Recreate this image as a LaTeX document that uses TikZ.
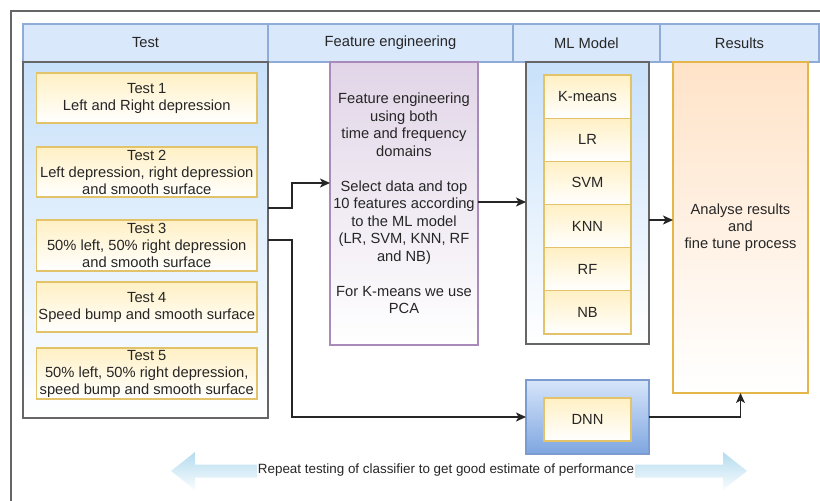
\documentclass[tikz,border=0pt]{standalone}
\usepackage{fontspec}
\setmainfont{Liberation Sans}
\usetikzlibrary{arrows.meta,positioning}

\definecolor{hdrfill}{HTML}{DAE8FC}
\definecolor{hdrline}{HTML}{8FACD8}
\definecolor{paleblue}{HTML}{C8E1FA}
\definecolor{framegray}{HTML}{666666}
\definecolor{yelfill}{HTML}{FFF0C4}
\definecolor{yelline}{HTML}{E3C36A}
\definecolor{purfill}{HTML}{E1D5E7}
\definecolor{purline}{HTML}{A98BBB}
\definecolor{orfill}{HTML}{FFE3C8}
\definecolor{orline}{HTML}{E5B74A}
\definecolor{dnntop}{HTML}{D6E5FA}
\definecolor{dnnbot}{HTML}{7FA6E0}
\definecolor{dnnline}{HTML}{7C9CD0}
\definecolor{loopblue}{HTML}{B4DCEF}
\definecolor{txt}{HTML}{262626}

\begin{document}
\begin{tikzpicture}[x=1pt,y=-1pt,
  every node/.style={inner sep=0pt, outer sep=0pt, text=txt, align=center,
    font=\fontsize{14.7}{17}\selectfont},
  header/.style={draw=hdrline, fill=hdrfill, line width=1.2pt,
    minimum height=38pt},
  container/.style={draw=framegray, line width=1.2pt,
    top color=paleblue, bottom color=white},
  testbox/.style={draw=yelline, line width=1.2pt,
    top color=yelfill, bottom color=white,
    minimum width=220.5pt},
  algo/.style={draw=yelline, line width=1.2pt,
    top color=yelfill, bottom color=white,
    minimum width=87pt, minimum height=43.17pt},
  conn/.style={draw=txt, line width=1.2pt},
  arr/.style={conn, -{Stealth[length=10pt,width=9pt,inset=2.5pt]}}]

\useasboundingbox (0,0) rectangle (820,501);
\clip (0,0) rectangle (820,501);

% outer frame (runs past the page edges)
\draw[framegray, line width=2pt] (830,11) -- (11,11) -- (11,511);

% column headers
\node[header, minimum width=245pt] (hTest) at (145.5,43) {Test};
\node[header, minimum width=245pt] (hFE) at (390.5,43) {Feature engineering};
\node[header, minimum width=147pt] (hML) at (586.5,43) {ML Model};
\node[header, minimum width=159pt] (hRes) at (739.5,43) {Results};

% test column
\node[container, minimum width=245pt, minimum height=356pt] (tests) at (145.5,240) {};
\node[testbox, minimum height=50pt] (t1) at (146.75,98) {Test 1\\Left and Right depression};
\node[testbox, minimum height=50pt] (t2) at (146.75,172) {Test 2\\Left depression, right depression\\and smooth surface};
\node[testbox, minimum height=51pt] (t3) at (146.75,245.5) {Test 3\\50\% left, 50\% right depression\\and smooth surface};
\node[testbox, minimum height=50pt] (t4) at (146.75,307) {Test 4\\Speed bump and smooth surface};
\node[testbox, minimum height=51pt] (t5) at (146.75,373.5) {Test 5\\50\% left, 50\% right depression,\\speed bump and smooth surface};

% feature engineering
\node[draw=purline, line width=1.2pt, top color=purfill, bottom color=white,
  minimum width=148pt, minimum height=283pt,
  font=\fontsize{14.7}{17.5}\selectfont] (fe) at (404,203.5)
  {Feature engineering\\using both\\time and frequency\\domains\\[17.5pt]Select data and top\\10 features according\\to the ML model\\(LR, SVM, KNN, RF\\and NB)\\[17.5pt]For K-means we use\\PCA};

% classical models
\node[container, minimum width=123pt, minimum height=282pt] (ml) at (587.5,203) {};
\node[algo] (km) at (587.5,96.58) {K-means};
\node[algo, below=0pt of km] (lr) {LR};
\node[algo, below=0pt of lr] (svm) {SVM};
\node[algo, below=0pt of svm] (knn) {KNN};
\node[algo, below=0pt of knn] (rf) {RF};
\node[algo, below=0pt of rf] (nb) {NB};

% deep model
\node[draw=dnnline, line width=1.2pt, top color=dnntop, bottom color=dnnbot,
  minimum width=123pt, minimum height=74pt] (dnnbox) at (587.5,417) {};
\node[algo, minimum height=43pt] (dnn) at (587.5,419.5) {DNN};

% results
\node[draw=orline, line width=1.2pt, top color=orfill, bottom color=white,
  minimum width=135pt, minimum height=331pt] (res) at (740.5,227.5)
  {Analyse results\\and\\fine tune process};

% connectors
\coordinate (b1) at (292,183);
\coordinate (b2) at (292,208);
\coordinate (b3) at (292,240);
\coordinate (b4) at (660,220);
\draw[arr] (tests.east |- b2) -- (b2) -- (b1) -- (fe.west |- b1);
\draw[arr] (tests.east |- b3) -- (b3) |- (dnnbox.west);
\draw[arr] (fe.east |- 0,202) -- (ml.west |- 0,202);
\draw[arr] (ml.east |- b4) -- (res.west |- b4);
\draw[arr] (dnnbox.east) -| (res.south);

% repeat loop arrow
\shade[top color=loopblue, bottom color=white!92!loopblue]
  (171,471) -- (195,452) -- (195,464.5) -- (723,464.5) -- (723,452)
  -- (747,471) -- (723,490) -- (723,477.5) -- (195,477.5) -- (195,490) -- cycle;
\node[fill=white, inner xsep=1pt, inner ysep=2pt,
  font=\fontsize{13.4}{15}\selectfont] (loop) at (446,470)
  {Repeat testing of classifier to get good estimate of performance};

\end{tikzpicture}
\end{document}
